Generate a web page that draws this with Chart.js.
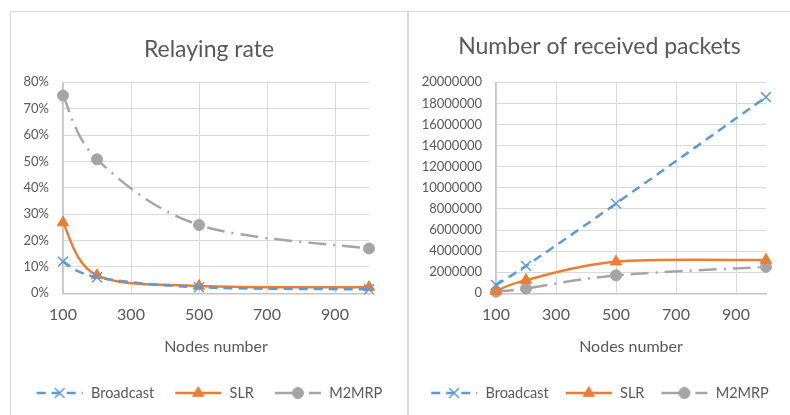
<!DOCTYPE html>
<html>
<head>
<meta charset="utf-8">
<script src="https://cdn.jsdelivr.net/npm/chart.js@4.4.1/dist/chart.umd.min.js"></script>
<style>
body{margin:0;background:#fff;width:790px;height:415px;overflow:hidden;position:relative;}
.panel{position:absolute;top:11px;height:404px;border-top:1px solid #d9d9d9;box-sizing:border-box;}
#p1{left:10px;width:398px;border-left:1px solid #d9d9d9;}
#p2{left:407px;width:383px;border-left:2px solid #d9d9d9;}
.panel canvas{display:block;}
</style>
</head>
<body>
<div class="panel" id="p1"><canvas id="c1" width="396" height="403"></canvas></div>
<div class="panel" id="p2"><canvas id="c2" width="381" height="403"></canvas></div>
<script>
// data
var nodes = [100, 200, 500, 1000];
var relayBroadcast = [0.12, 0.061, 0.023, 0.015];
var relaySLR = [0.268, 0.068, 0.028, 0.023];
var relayM2MRP = [0.75, 0.508, 0.259, 0.17];
var pktBroadcast = [800000, 2600000, 8500000, 18600000];
var pktSLR = [200000, 1250000, 3000000, 3150000];
var pktM2MRP = [150000, 450000, 1700000, 2500000];
var xTicks = [100, 300, 500, 700, 900];
var relayTicks = [0, 0.1, 0.2, 0.3, 0.4, 0.5, 0.6, 0.7, 0.8];
var pktTicks = [0, 2000000, 4000000, 6000000, 8000000, 10000000, 12000000, 14000000, 16000000, 18000000, 20000000];
var labels = ['Broadcast', 'SLR', 'M2MRP'];

var styles = [
  {color:'#5B9BD5', dash:[9,6], point:'crossRot', radius:7, bw:1.5},
  {color:'#ED7D31', dash:[], point:'triangle', radius:6.5, bw:1},
  {color:'#A5A5A5', dash:[18,7,2,7], point:'circle', radius:5.5, bw:1}
];

Chart.defaults.font.family = 'Lato, "Open Sans", sans-serif';
Chart.defaults.color = '#595959';

function marker(g, st, x, y){
  var r = st.radius;
  g.fillStyle = st.color; g.strokeStyle = st.color; g.lineWidth = st.bw;
  g.beginPath();
  if(st.point=='crossRot'){
    var d = r*Math.SQRT1_2;
    g.moveTo(x-d,y-d); g.lineTo(x+d,y+d);
    g.moveTo(x+d,y-d); g.lineTo(x-d,y+d);
    g.stroke();
  } else if(st.point=='triangle'){
    for(var k=0;k<3;k++){
      var a = k*2*Math.PI/3;
      var px = x+Math.sin(a)*r, py = y-Math.cos(a)*r;
      if(k==0) g.moveTo(px,py); else g.lineTo(px,py);
    }
    g.closePath(); g.fill(); g.stroke();
  } else {
    g.arc(x,y,r,0,Math.PI*2); g.fill(); g.stroke();
  }
}

function legendIcon(st){
  var c = document.createElement('canvas');
  c.width = 48; c.height = 18;
  var g = c.getContext('2d');
  g.strokeStyle = st.color; g.lineWidth = 2.5;
  g.setLineDash(st.dash);
  g.beginPath(); g.moveTo(1,9); g.lineTo(47,9); g.stroke();
  g.setLineDash([]);
  marker(g, st, 24, 9);
  return c;
}
var icons = styles.map(legendIcon);

// excel style smoothing: control points = neighbour difference / 6
var excelSmooth = {
  id: 'excelSmooth',
  beforeDatasetDraw: function(chart, args){
    var meta = args.meta, pts = meta.data, n = pts.length;
    for(var i=0;i<n;i++){
      var a = pts[Math.max(i-1,0)], b = pts[Math.min(i+1,n-1)];
      var dx = (b.x-a.x)/6, dy = (b.y-a.y)/6;
      pts[i].cp1x = pts[i].x-dx; pts[i].cp1y = pts[i].y-dy;
      pts[i].cp2x = pts[i].x+dx; pts[i].cp2y = pts[i].y+dy;
    }
    meta.dataset._pointsUpdated = true;
    meta.dataset._path = undefined;
  }
};

function makeSets(arrs){
  return arrs.map(function(arr, i){
    var st = styles[i];
    return {
      label: labels[i],
      data: nodes.map(function(n, j){ return {x:n, y:arr[j]}; }),
      borderColor: st.color,
      backgroundColor: st.color,
      borderWidth: 2.5,
      borderDash: st.dash,
      tension: 0.4,
      pointStyle: st.point,
      pointRadius: st.radius,
      pointBorderWidth: st.bw,
      pointBackgroundColor: st.color,
      pointBorderColor: st.color,
      clip: false
    };
  });
}

function setTicks(list){
  return function(scale){ scale.ticks = list.map(function(v){ return {value:v}; }); };
}

function makeChart(id, title, titlePad, arrs, yList, yFmt, yWidth, padRight, legPad){
  return new Chart(document.getElementById(id), {
    type: 'line',
    data: { datasets: makeSets(arrs) },
    plugins: [excelSmooth],
    options: {
      responsive: false,
      animation: false,
      layout: { padding: { left: 0, right: 0, top: 0, bottom: 4.75 } },
      plugins: {
        title: { display: true, text: title, color: '#595959',
                 font: { size: 23, weight: 'normal' }, padding: titlePad },
        legend: {
          position: 'bottom',
          labels: {
            usePointStyle: true, pointStyleWidth: 48, padding: legPad,
            font: { size: 14.5 }, color: '#595959',
            generateLabels: function(chart){
              return chart.data.datasets.map(function(ds, i){
                return { text: ds.label, pointStyle: icons[i], fillStyle: ds.borderColor,
                         strokeStyle: ds.borderColor, lineWidth: 0, datasetIndex: i, fontColor: '#595959' };
              });
            }
          }
        },
        tooltip: { enabled: false }
      },
      scales: {
        x: {
          type: 'linear', min: 100, max: 1000,
          afterBuildTicks: setTicks(xTicks),
          afterFit: function(s){ s.height = 92.45 - legPad; },
          grid: { color: '#d9d9d9', drawTicks: false },
          border: { color: '#c4c4c4', width: 1.5 },
          ticks: { padding: 12, font: { size: 16 }, color: '#595959', autoSkip: false, maxRotation: 0 },
          title: { display: true, text: 'Nodes number', color: '#595959',
                   font: { size: 16 }, padding: { top: 0, bottom: 29.15 - legPad } }
        },
        y: {
          min: 0, max: yList[yList.length-1],
          afterBuildTicks: setTicks(yList),
          afterFit: function(s){ s.width = yWidth; },
          grid: { color: '#d9d9d9', drawTicks: false },
          border: { color: '#c4c4c4', width: 1.5 },
          ticks: { padding: 14, font: { size: 13 }, color: '#595959', callback: yFmt, autoSkip: false }
        },
        // empty right axis, only keeps space at the right of the plot
        gap: {
          position: 'right', display: true, min: 0, max: 1,
          afterFit: function(s){ s.width = padRight; },
          grid: { display: false }, border: { display: false }, ticks: { display: false }
        }
      }
    }
  });
}

makeChart('c1', 'Relaying rate', { top: 23.7, bottom: 19 },
  [relayBroadcast, relaySLR, relayM2MRP], relayTicks,
  function(v){ return Math.round(v*100) + '%'; }, 52, 38, 20);

makeChart('c2', 'Number of received packets', { top: 21.2, bottom: 21.5 },
  [pktBroadcast, pktSLR, pktM2MRP], pktTicks,
  function(v){ return String(v); }, 87, 24, 16);
</script>
</body>
</html>
